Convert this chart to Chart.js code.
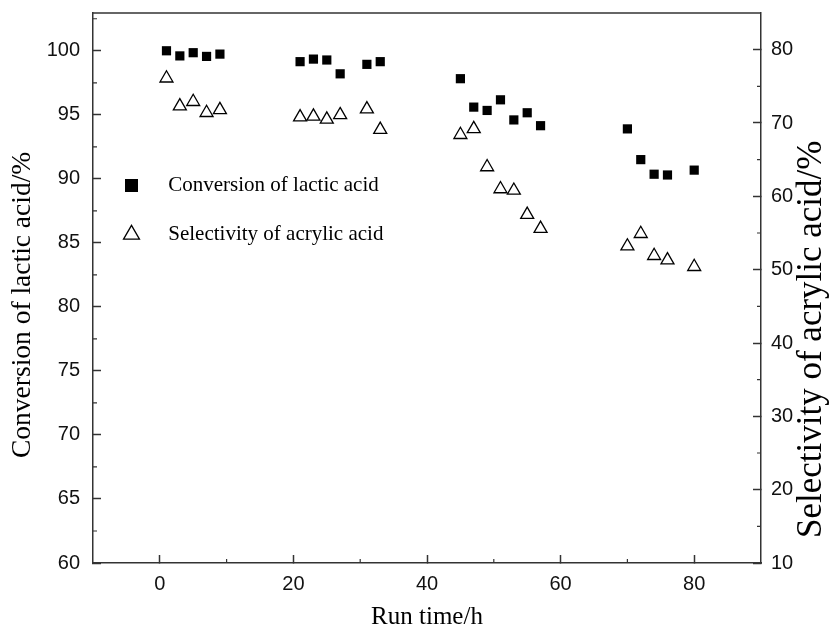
<!DOCTYPE html>
<html>
<head>
<meta charset="utf-8">
<script src="https://cdn.jsdelivr.net/npm/chart.js@4.4.1/dist/chart.umd.min.js"></script>
<style>
  html, body { margin: 0; padding: 0; background: #fff; }
  #wrap { width: 829px; height: 630px; }
</style>
</head>
<body>
<div id="wrap"><canvas id="chart"></canvas></div>
<script>
// run time in hours, shared by both series
var runTime = [1, 3, 5, 7, 9, 21, 23, 25, 27, 31, 33, 45, 47, 49, 51, 53, 55, 57, 70, 72, 74, 76, 80];
// conversion of lactic acid (%), left axis
var conversion = [100.0, 99.6, 99.85, 99.56, 99.74, 99.15, 99.35, 99.28, 98.2, 98.94, 99.15,
                  97.82, 95.6, 95.34, 96.17, 94.6, 95.16, 94.15, 93.9, 91.5, 90.36, 90.3, 90.68];
// selectivity of acrylic acid (%), right axis
var selectivity = [76.1, 72.3, 72.9, 71.4, 71.8, 70.8, 70.9, 70.5, 71.1, 71.9, 69.1,
                   68.4, 69.2, 64.0, 61.0, 60.8, 57.5, 55.6, 53.2, 54.9, 51.9, 51.3, 50.4];

var xTicks = [0, 20, 40, 60, 80];
var xMinor = [10, 30, 50, 70];
var leftTicks = [60, 65, 70, 75, 80, 85, 90, 95, 100];
var leftMinor = [62.5, 67.5, 72.5, 77.5, 82.5, 87.5, 92.5, 97.5, 102.5];
var rightTicks = [10, 20, 30, 40, 50, 60, 70, 80];
var rightMinor = [15, 25, 35, 45, 55, 65, 75];

var leftTitle = 'Conversion of lactic acid/%';
var rightTitle = 'Selectivity of acrylic acid/%';

var AXIS = '#333';
var SANS = "'Liberation Sans', Arial, sans-serif";
var SERIF = "'Liberation Serif', 'Times New Roman', serif";

function toPoints(ys) {
    return runTime.map(function (t, i) { return { x: t, y: ys[i] }; });
}

function fixedTicks(list) {
    return function (scale) {
        scale.ticks = list.map(function (v) { return { value: v }; });
    };
}

// pin the axis boxes so the plot frame lands where the original has it
function fixSize(prop, size) {
    return function (scale) {
        scale[prop] = size;
        scale.paddingTop = scale.paddingBottom = 0;
        scale.paddingLeft = scale.paddingRight = 0;
    };
}

// top frame line, short inward minor ticks, and the two y titles
// (both read bottom-to-top, which chart.js won't do for a right axis)
var framePlugin = {
    id: 'frame',
    afterDraw: function (chart) {
        var ctx = chart.ctx;
        var a = chart.chartArea;
        ctx.save();
        ctx.strokeStyle = AXIS;
        ctx.lineWidth = 1.5;
        ctx.beginPath();
        ctx.moveTo(a.left, a.top);
        ctx.lineTo(a.right, a.top);
        ctx.stroke();

        ctx.lineWidth = 1.2;
        ctx.beginPath();
        xMinor.forEach(function (v) {
            var px = chart.scales.x.getPixelForValue(v);
            ctx.moveTo(px, a.bottom);
            ctx.lineTo(px, a.bottom - 4);
        });
        leftMinor.forEach(function (v) {
            var py = chart.scales.y.getPixelForValue(v);
            ctx.moveTo(a.left, py);
            ctx.lineTo(a.left + 4, py);
        });
        rightMinor.forEach(function (v) {
            var py = chart.scales.y1.getPixelForValue(v);
            ctx.moveTo(a.right, py);
            ctx.lineTo(a.right - 4, py);
        });
        ctx.stroke();

        ctx.fillStyle = '#000';
        ctx.textAlign = 'left';
        ctx.textBaseline = 'middle';

        ctx.save();
        ctx.translate(23, a.bottom - 105);
        ctx.rotate(-Math.PI / 2);
        ctx.font = '27.5px ' + SERIF;
        ctx.fillText(leftTitle, 0, 0);
        ctx.restore();

        ctx.save();
        ctx.translate(chart.width - 17, a.bottom - 25);
        ctx.rotate(-Math.PI / 2);
        ctx.font = '35px ' + SERIF;
        ctx.fillText(rightTitle, 0, 0);
        ctx.restore();

        ctx.restore();
    }
};

var ctx = document.getElementById('chart');

var chart = new Chart(ctx, {
    type: 'scatter',
    data: {
        datasets: [
            {
                label: 'Conversion of lactic acid',
                data: toPoints(conversion),
                yAxisID: 'y',
                pointStyle: 'rect',
                pointRadius: 6.5,
                backgroundColor: '#000',
                borderColor: '#000',
                borderWidth: 0
            },
            {
                label: 'Selectivity of acrylic acid',
                data: toPoints(selectivity),
                yAxisID: 'y1',
                pointStyle: 'triangle',
                pointRadius: 7.5,
                backgroundColor: '#fff',
                borderColor: '#000',
                borderWidth: 1.3
            }
        ]
    },
    options: {
        responsive: true,
        maintainAspectRatio: false,
        animation: false,
        layout: { autoPadding: false, padding: { top: 13, left: 0, right: 0, bottom: 0 } },
        plugins: {
            tooltip: { enabled: false },
            legend: {
                position: 'chartArea',
                align: 'start',
                title: { display: true, text: '', font: { size: 10, lineHeight: 1 }, padding: { top: 137, bottom: 0 } },
                labels: {
                    usePointStyle: true,
                    boxHeight: 13,
                    boxWidth: 21,
                    padding: 28,
                    color: '#000',
                    font: { family: SERIF, size: 21 },
                    generateLabels: function (c) {
                        var items = Chart.defaults.plugins.legend.labels.generateLabels(c);
                        items.forEach(function (it) { it.text = '   ' + it.text; });
                        return items;
                    }
                }
            }
        },
        scales: {
            x: {
                type: 'linear',
                min: -10,
                max: 90,
                afterBuildTicks: fixedTicks(xTicks),
                afterFit: fixSize('height', 67),
                grid: { drawOnChartArea: false, tickLength: -8, tickColor: AXIS, tickWidth: 1.5 },
                border: { color: AXIS, width: 1.5 },
                ticks: { padding: 17.5, color: '#111', font: { family: SANS, size: 20 } },
                title: {
                    display: true,
                    text: 'Run time/h',
                    color: '#000',
                    font: { family: SERIF, size: 25 },
                    padding: { top: 0, bottom: -2 }
                }
            },
            y: {
                type: 'linear',
                position: 'left',
                min: 60,
                max: 102.95,
                afterBuildTicks: fixedTicks(leftTicks),
                afterFit: fixSize('width', 93),
                grid: { drawOnChartArea: false, tickLength: -8, tickColor: AXIS, tickWidth: 1.5 },
                border: { color: AXIS, width: 1.5 },
                ticks: { padding: 21, color: '#111', font: { family: SANS, size: 20 } }
            },
            y1: {
                type: 'linear',
                position: 'right',
                min: 10,
                max: 85,
                afterBuildTicks: fixedTicks(rightTicks),
                afterFit: fixSize('width', 68),
                grid: { drawOnChartArea: false, tickLength: -8, tickColor: AXIS, tickWidth: 1.5 },
                border: { color: AXIS, width: 1.5 },
                ticks: { padding: 18, color: '#111', font: { family: SANS, size: 20 } }
            }
        }
    },
    plugins: [framePlugin]
});
</script>
</body>
</html>
